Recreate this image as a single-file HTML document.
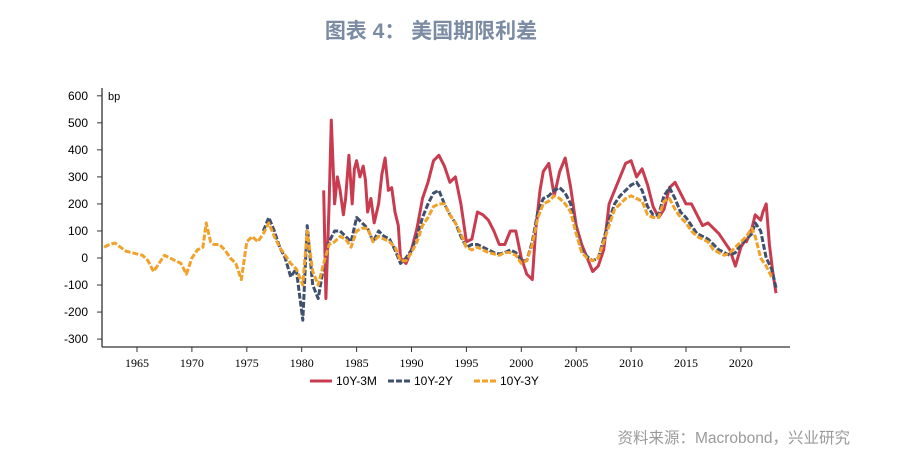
<!DOCTYPE html>
<html><head><meta charset="utf-8"><style>
body{margin:0;background:#fff;width:901px;height:462px;overflow:hidden}
svg{display:block}
</style></head><body>
<svg id="chart" width="901" height="462" xmlns="http://www.w3.org/2000/svg" font-family="'Liberation Sans','Noto Sans CJK SC',sans-serif">
<text x="431" y="38" text-anchor="middle" font-size="21" font-weight="bold" fill="#7b8ba3">图表 4：  美国期限利差</text>
<text x="850" y="443" text-anchor="end" font-size="15.5" fill="#9a9a9a">资料来源：Macrobond，兴业研究</text>
<text x="108" y="100" font-size="11" fill="#000">bp</text>
<g id="axes"></g>
<g id="series"></g>
<g id="legend"></g>
</svg>
<script>
const yTicks=[600,500,400,300,200,100,0,-100,-200,-300];
const xTicks=[1965,1970,1975,1980,1985,1990,1995,2000,2005,2010,2015,2020];
const seriesNames=["10Y-3M","10Y-2Y","10Y-3Y"];
const t3Y=[1962,1962.5,1963,1963.5,1964,1964.5,1965,1965.5,1966,1966.5,1967,1967.5,1968,1968.5,1969,1969.5,1970,1970.5,1971,1971.3,1971.7,1972,1972.5,1973,1973.5,1974,1974.5,1975,1975.5,1976,1976.5,1977,1977.5,1978,1978.5,1979,1979.5,1980.1,1980.5,1981,1981.5,1982,1982.5,1983,1983.5,1984,1984.5,1985,1985.5,1986,1986.5,1987,1987.5,1988,1988.5,1989,1989.5,1990,1990.5,1991,1991.5,1992,1992.5,1993,1993.5,1994,1994.5,1995,1995.5,1996,1996.5,1997,1997.5,1998,1998.5,1999,1999.5,2000,2000.5,2001,2001.5,2002,2002.5,2003,2003.5,2004,2004.5,2005,2005.5,2006,2006.5,2007,2007.5,2008,2008.5,2009,2009.5,2010,2010.5,2011,2011.5,2012,2012.5,2013,2013.5,2014,2014.5,2015,2015.5,2016,2016.5,2017,2017.5,2018,2018.5,2019,2019.5,2020,2020.5,2021,2021.3,2021.8,2022.3,2022.8,2023.2];
const v3Y=[40,50,55,40,25,20,15,10,-10,-50,-20,10,0,-10,-20,-60,0,30,40,130,60,50,50,30,0,-20,-80,60,80,60,90,130,80,40,10,-20,-40,-100,100,-50,-100,-20,50,60,80,70,40,100,110,110,60,80,70,60,40,-10,-10,20,60,120,150,190,200,200,160,130,90,40,30,40,30,20,15,10,20,20,10,-20,-10,50,150,200,210,230,220,200,170,90,20,0,-10,0,60,120,180,200,220,230,220,210,160,150,150,210,220,180,150,130,100,80,70,60,30,20,10,20,40,60,80,110,80,0,-30,-70];
const t2Y=[1976.5,1977,1977.5,1978,1978.5,1979,1979.5,1980.1,1980.5,1981,1981.5,1982,1982.5,1983,1983.5,1984,1984.5,1985,1985.5,1986,1986.5,1987,1987.5,1988,1988.5,1989,1989.5,1990,1990.5,1991,1991.5,1992,1992.5,1993,1993.5,1994,1994.5,1995,1995.5,1996,1996.5,1997,1997.5,1998,1998.5,1999,1999.5,2000,2000.5,2001,2001.5,2002,2002.5,2003,2003.5,2004,2004.5,2005,2005.5,2006,2006.5,2007,2007.5,2008,2008.5,2009,2009.5,2010,2010.5,2011,2011.5,2012,2012.5,2013,2013.5,2014,2014.5,2015,2015.5,2016,2016.5,2017,2017.5,2018,2018.5,2019,2019.5,2020,2020.5,2021,2021.3,2021.8,2022.3,2022.8,2023.2];
const v2Y=[100,150,100,40,0,-70,-40,-230,120,-100,-150,-30,60,100,100,80,60,150,130,110,60,100,80,70,30,-20,0,30,80,150,200,240,250,200,160,130,80,40,50,50,40,30,20,15,20,30,20,-10,-10,60,170,220,230,250,260,240,200,100,30,5,-10,0,70,140,200,230,250,270,280,250,190,160,160,230,260,220,170,150,120,90,80,70,50,30,20,10,20,50,70,90,130,100,0,-40,-110];
const t3M=[1982,1982.2,1982.5,1982.7,1983,1983.25,1983.5,1983.8,1984,1984.3,1984.6,1984.8,1985,1985.3,1985.6,1985.8,1986,1986.3,1986.6,1987,1987.3,1987.6,1987.9,1988.2,1988.5,1988.8,1989,1989.5,1990,1990.5,1991,1991.5,1992,1992.5,1993,1993.5,1994,1994.5,1995,1995.5,1996,1996.5,1997,1997.5,1998,1998.5,1999,1999.5,2000,2000.5,2001,2001.3,2001.7,2002,2002.5,2003,2003.5,2004,2004.5,2005,2005.5,2006,2006.5,2007,2007.5,2008,2008.5,2009,2009.5,2010,2010.5,2011,2011.5,2012,2012.5,2013,2013.5,2014,2014.5,2015,2015.5,2016,2016.5,2017,2017.5,2018,2018.5,2019,2019.5,2020,2020.3,2020.5,2021,2021.3,2021.8,2022,2022.3,2022.6,2022.9,2023.2];
const v3M=[250,-150,200,510,200,300,250,160,220,380,200,330,360,300,340,290,170,220,130,200,310,370,250,260,170,120,0,-20,30,110,220,280,360,380,340,280,300,200,60,70,170,160,140,100,50,50,100,100,0,-60,-80,100,250,320,350,230,320,370,260,120,50,0,-50,-30,30,200,250,300,350,360,300,330,270,190,150,180,260,280,240,200,200,160,120,130,110,90,60,30,-30,40,60,60,110,160,140,170,200,50,-50,-130];
const NS="http://www.w3.org/2000/svg";
function X(yr){return 137+(yr-1965)*10.98;}
function Y(v){return 258-v*0.2703;}
function mk(tag,attrs,parent){const e=document.createElementNS(NS,tag);for(const k in attrs)e.setAttribute(k,attrs[k]);parent.appendChild(e);return e;}
const axes=document.getElementById('axes');
let a=mk('line',{x1:102,y1:88,x2:102,y2:347,stroke:'#333','stroke-width':1.3},axes);


a=mk('line',{x1:102,y1:347,x2:790,y2:347,stroke:'#333','stroke-width':1.3},axes);


yTicks.forEach(v=>{
 const t=mk('line',{x1:97,y1:Y(v),x2:102,y2:Y(v),stroke:'#333'},axes);
 
 
 const l=mk('text',{x:88,y:Y(v)+4,'text-anchor':'end','font-size':12,fill:'#000'},axes);
 l.textContent=v;
 
 
});
xTicks.forEach(v=>{
 const t=mk('line',{x1:X(v),y1:347,x2:X(v),y2:352,stroke:'#333'},axes);
 
 
 const l=mk('text',{x:X(v),y:367,'text-anchor':'middle','font-size':12,fill:'#000','font-family':"'Liberation Serif',serif"},axes);
 l.textContent=v;
 
 
});
const ser=document.getElementById('series');
function draw(ts,vs,color,dash,name){
 const d=ts.map((t,i)=>(i?'L':'M')+X(t).toFixed(1)+' '+Y(vs[i]).toFixed(1)).join(' ');
 const p=mk('path',{d:d,fill:'none',stroke:color,'stroke-width':3,'stroke-linejoin':'round'},ser);
 if(dash)p.setAttribute('stroke-dasharray',dash);
 
 
}
draw(t3M,v3M,'#c93c50',null,'series-10y-3m');
draw(t2Y,v2Y,'#3f4f6e','6 2','series-10y-2y');
draw(t3Y,v3Y,'#f2a22a','6 2','series-10y-3y');
const lg=document.getElementById('legend');
const lgItems=[[310,'#c93c50',null],[388,'#3f4f6e','6 2'],[474,'#f2a22a','6 2']];
lgItems.forEach((it,i)=>{
 const g=mk('g',{},lg);
 
 
 const ln=mk('line',{x1:it[0],y1:381,x2:it[0]+22,y2:381,stroke:it[1],'stroke-width':3},g);
 if(it[2])ln.setAttribute('stroke-dasharray',it[2]);
 const tx=mk('text',{x:it[0]+26,y:385,'font-size':12,fill:'#000'},g);
 tx.textContent=seriesNames[i];
});
</script>
</body></html>
